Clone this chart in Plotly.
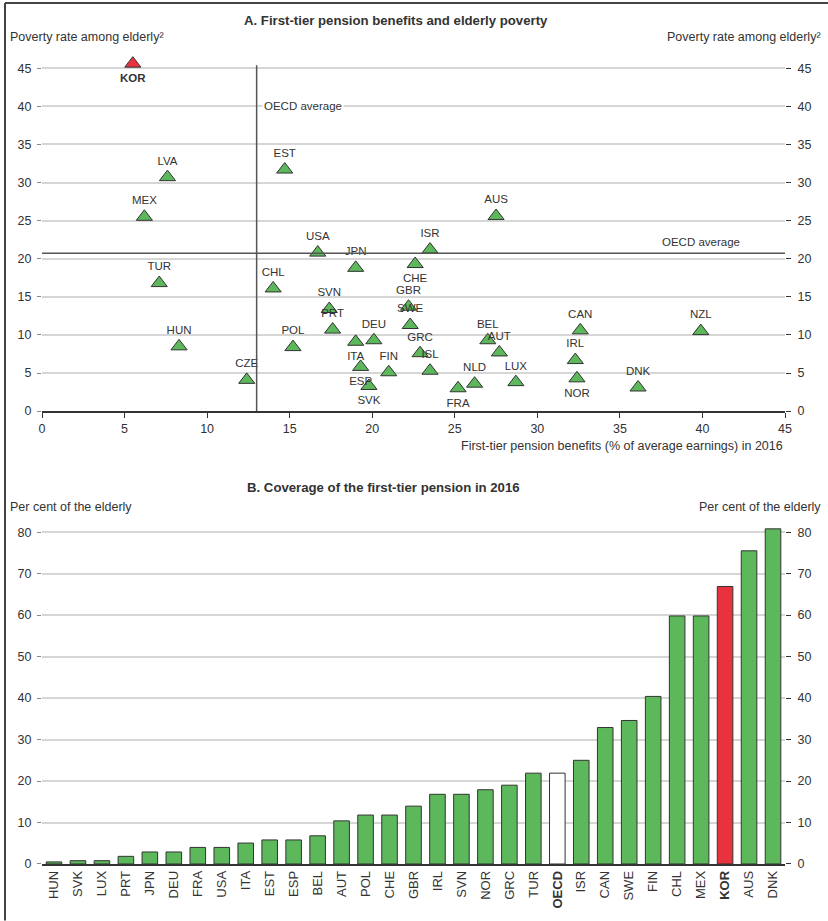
import plotly.graph_objects as go

# ---------------- Panel A data ----------------
a_countries = ["KOR", "LVA", "MEX", "EST", "AUS", "USA", "JPN", "ISR", "CHE", "TUR", "CHL",
               "SVN", "GBR", "PRT", "SWE", "HUN", "POL", "ITA", "DEU", "ESP", "SVK", "FIN",
               "CZE", "GRC", "ISL", "FRA", "NLD", "BEL", "AUT", "LUX", "CAN", "IRL", "NOR",
               "DNK", "NZL"]
a_benefits = [5.5, 7.6, 6.2, 14.7, 27.5, 16.7, 19.0, 23.5, 22.6, 7.1, 14.0,
              17.4, 22.2, 17.6, 22.3, 8.3, 15.2, 19.0, 20.1, 19.3, 19.8, 21.0,
              12.4, 22.9, 23.5, 25.2, 26.2, 27.0, 27.7, 28.7, 32.6, 32.3, 32.4,
              36.1, 39.9]
a_poverty = [45.6, 30.7, 25.5, 31.7, 25.6, 20.8, 18.8, 21.2, 19.3, 16.8, 16.1,
             13.4, 13.7, 10.7, 11.3, 8.5, 8.4, 9.1, 9.3, 5.8, 3.3, 5.1,
             4.1, 7.6, 5.3, 3.0, 3.6, 9.3, 7.7, 3.8, 10.6, 6.7, 4.3,
             3.1, 10.5]
a_label_below = ["KOR", "CHE", "ITA", "ESP", "SVK", "FRA", "NOR"]
oecd_avg_benefit = 13.0
oecd_avg_poverty = 20.7
a_xticks = [0, 5, 10, 15, 20, 25, 30, 35, 40, 45]
a_yticks = [0, 5, 10, 15, 20, 25, 30, 35, 40, 45]

# ---------------- Panel B data ----------------
b_countries = ["HUN", "SVK", "LUX", "PRT", "JPN", "DEU", "FRA", "USA", "ITA", "EST", "ESP",
               "BEL", "AUT", "POL", "CHE", "GBR", "IRL", "SVN", "NOR", "GRC", "TUR", "OECD",
               "ISR", "CAN", "SWE", "FIN", "CHL", "MEX", "KOR", "AUS", "DNK"]
b_coverage = [0.5, 0.8, 0.8, 1.85, 2.9, 2.9, 4.0, 4.0, 5.05, 5.8, 5.8,
              6.8, 10.4, 11.8, 11.8, 13.95, 16.8, 16.8, 17.9, 19.0, 21.9, 21.9,
              25.0, 32.9, 34.6, 40.4, 59.8, 59.8, 66.9, 75.5, 80.8]
b_yticks = [0, 10, 20, 30, 40, 50, 60, 70, 80]

GREEN = "#5cb85a"
RED = "#e8333f"
DARK = "#333333"
GRID = "#d6d6d6"
FONT = "Liberation Sans, Arial, sans-serif"

fig = go.Figure()

# Panel A scatter
a_colors = [RED if c == "KOR" else GREEN for c in a_countries]
a_text = ["<b>%s</b>" % c if c == "KOR" else c for c in a_countries]
a_pos = ["bottom center" if c in a_label_below else "top center" for c in a_countries]
fig.add_trace(go.Scatter(
    x=a_benefits, y=a_poverty, mode="markers+text", text=a_text, textposition=a_pos,
    textfont=dict(size=11.5, color=DARK, family=FONT),
    marker=dict(symbol="triangle-up", size=14, color=a_colors, line=dict(color=DARK, width=1)),
    xaxis="x", yaxis="y", showlegend=False, cliponaxis=False))

# OECD average lines
fig.add_trace(go.Scatter(x=[oecd_avg_benefit, oecd_avg_benefit], y=[0, 45.4], mode="lines",
                         line=dict(color="#555555", width=1.5), xaxis="x", yaxis="y",
                         showlegend=False, hoverinfo="skip"))
fig.add_trace(go.Scatter(x=[0, 45], y=[oecd_avg_poverty, oecd_avg_poverty], mode="lines",
                         line=dict(color="#555555", width=1.5), xaxis="x", yaxis="y",
                         showlegend=False, hoverinfo="skip"))
# invisible trace for right axis of panel A
fig.add_trace(go.Scatter(x=[0], y=[0], mode="markers", marker=dict(opacity=0),
                         xaxis="x", yaxis="y3", showlegend=False, hoverinfo="skip"))

# Panel B bars
b_colors = [RED if c == "KOR" else ("white" if c == "OECD" else GREEN) for c in b_countries]
fig.add_trace(go.Bar(x=b_countries, y=b_coverage, marker=dict(color=b_colors,
                     line=dict(color=DARK, width=1)), xaxis="x2", yaxis="y2",
                     showlegend=False, width=0.65))
fig.add_trace(go.Scatter(x=[b_countries[0]], y=[0], mode="markers", marker=dict(opacity=0),
                         xaxis="x2", yaxis="y4", showlegend=False, hoverinfo="skip"))

b_ticktext = ["<b>%s</b>" % c if c in ("KOR", "OECD") else c for c in b_countries]

tickfont = dict(size=12.5, color=DARK, family=FONT)

fig.update_layout(
    width=828, height=921,
    margin=dict(l=42, r=43, t=57, b=55),
    paper_bgcolor="white", plot_bgcolor="white",
    font=dict(family=FONT, color=DARK),
    bargap=0.35,
    xaxis=dict(domain=[0, 1], anchor="y", range=[0, 45], tickvals=a_xticks,
               showgrid=False, zeroline=False, showline=True, linecolor=DARK, linewidth=1.5,
               ticks="outside", ticklen=5, tickcolor=DARK, tickfont=tickfont),
    yaxis=dict(domain=[0.5612, 1.0], anchor="x", range=[0, 46.47], tickvals=a_yticks,
               showgrid=True, gridcolor=GRID, gridwidth=1.5, zeroline=False, showline=False,
               ticks="outside", ticklen=4, tickcolor="#888888", tickfont=tickfont,
               ticklabelstandoff=3),
    yaxis3=dict(domain=[0.5612, 1.0], anchor="x", overlaying="y", side="right",
                range=[0, 46.47], tickvals=a_yticks, showgrid=False, zeroline=False,
                showline=False, ticks="outside", ticklen=5, tickcolor=DARK, tickfont=tickfont,
                ticklabelstandoff=4),
    xaxis2=dict(domain=[0, 1], anchor="y2", range=[-0.5, 30.5], tickvals=b_countries,
                ticktext=b_ticktext, tickangle=-90, showgrid=False, zeroline=False,
                showline=True, linecolor=DARK, linewidth=1.5, ticks="",
                tickfont=dict(size=13, color=DARK, family=FONT)),
    yaxis2=dict(domain=[0, 0.4215], anchor="x2", range=[0, 82], tickvals=b_yticks,
                showgrid=True, gridcolor=GRID, gridwidth=1.5, zeroline=False, showline=False,
                ticks="outside", ticklen=4, tickcolor="#888888", tickfont=tickfont,
                ticklabelstandoff=3),
    yaxis4=dict(domain=[0, 0.4215], anchor="x2", overlaying="y2", side="right",
                range=[0, 82], tickvals=b_yticks, showgrid=False, zeroline=False,
                showline=False, ticks="outside", ticklen=5, tickcolor=DARK, tickfont=tickfont,
                ticklabelstandoff=4),
)

ann = []
def paper_text(x, y, text, xanchor="left", size=12.5, bold=False):
    ann.append(dict(x=x, y=y, xref="paper", yref="paper", text=("<b>%s</b>" % text) if bold else text,
                    showarrow=False, xanchor=xanchor, yanchor="middle",
                    font=dict(size=size, color=DARK, family=FONT)))

paper_text(0.476, 1.0457, "A. First-tier pension benefits and elderly poverty", "center", 13.2, True)
paper_text(-0.0458, 1.0247, "Poverty rate among elderly²", "left")
paper_text(1.0505, 1.0247, "Poverty rate among elderly²", "right")
paper_text(1.0, 0.518, "First-tier pension benefits (% of average earnings) in 2016", "right")
paper_text(0.459, 0.467, "B. Coverage of the first-tier pension in 2016", "center", 13.2, True)
paper_text(-0.0458, 0.4425, "Per cent of the elderly", "left")
paper_text(1.0505, 0.4425, "Per cent of the elderly", "right")

ann.append(dict(x=oecd_avg_benefit + 0.3, y=40, xref="x", yref="y", text="OECD average",
                showarrow=False, xanchor="left", yanchor="middle", bgcolor="white",
                font=dict(size=11.5, color=DARK, family=FONT)))
ann.append(dict(x=42.4, y=oecd_avg_poverty + 0.4, xref="x", yref="y", text="OECD average",
                showarrow=False, xanchor="right", yanchor="bottom",
                font=dict(size=11.5, color=DARK, family=FONT)))
fig.update_layout(annotations=ann)

# frame lines (top and left)
fig.add_shape(type="line", xref="paper", yref="paper", x0=-0.0498, x1=1.06, y0=1.0668, y1=1.0668,
              line=dict(color="#444444", width=2))
fig.add_shape(type="line", xref="paper", yref="paper", x0=-0.0498, x1=-0.0498, y0=1.0668, y1=-0.07,
              line=dict(color="#444444", width=2))

fig.write_html("out.html", config={"displayModeBar": False},
               post_script="document.body.style.margin='0';document.body.style.overflow='hidden';")
